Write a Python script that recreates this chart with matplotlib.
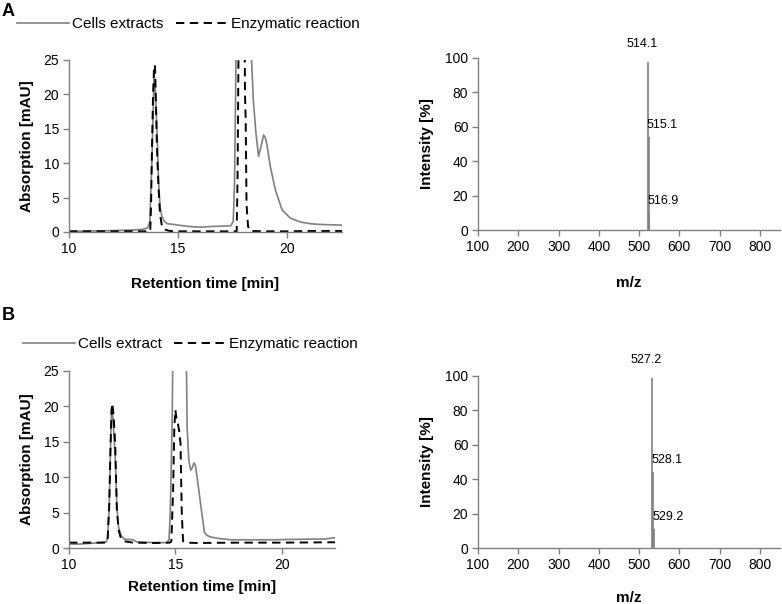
import matplotlib
matplotlib.use('Agg')
import matplotlib.pyplot as plt

plt.rcParams['font.family'] = ['Liberation Sans', 'DejaVu Sans']

GRAY = '#808080'

# Panel A chromatograms (retention time [min], absorption [mAU])
a_cells_t = [10.0, 11.0, 12.0, 13.0, 13.4, 13.6, 13.7, 13.75, 13.8, 13.85, 13.9, 13.95, 14.0,
             14.05, 14.1, 14.17, 14.25, 14.35, 14.5, 14.8, 15.0, 15.5, 16.0, 16.5, 17.0, 17.4,
             17.52, 17.58, 17.63, 17.68, 18.3, 18.36, 18.44, 18.56, 18.68, 18.8, 18.91, 19.0,
             19.07, 19.22, 19.45, 19.76, 20.14, 20.6, 21.06, 21.5, 22.0, 22.5]
a_cells_v = [0.1, 0.15, 0.2, 0.3, 0.4, 0.6, 1.5, 6.0, 10.5, 17.0, 23.0, 21.0, 17.0,
             13.0, 7.5, 3.7, 2.3, 1.6, 1.2, 1.1, 1.0, 0.8, 0.7, 0.8, 0.85, 0.9,
             1.5, 7.0, 20.0, 40.0, 40.0, 25.0, 19.2, 14.4, 11.0, 12.5, 14.1, 13.6,
             12.6, 9.5, 6.1, 3.2, 2.0, 1.45, 1.2, 1.1, 1.05, 1.0]
a_enz_t = [10.0, 13.0, 13.72, 13.76, 13.8, 13.85, 13.9, 13.94, 13.98, 14.03, 14.1, 14.17,
           14.25, 14.35, 14.6, 15.0, 17.0, 17.68, 17.72, 17.76, 17.8, 18.02, 18.06, 18.09,
           18.13, 18.2, 18.3, 19.0, 20.0, 21.0, 22.5]
a_enz_v = [0.1, 0.1, 0.1, 4.0, 12.0, 20.0, 24.3, 24.0, 19.0, 12.0, 6.5, 2.5,
           1.0, 0.4, 0.15, 0.1, 0.1, 0.1, 8.0, 25.0, 40.0, 40.0, 20.0, 16.5,
           4.0, 0.8, 0.15, 0.1, 0.1, 0.15, 0.15]

# Panel B chromatograms
b_cells_t = [10.0, 10.5, 11.0, 11.5, 11.75, 11.82, 11.89, 11.95, 12.0, 12.05, 12.1, 12.17,
             12.25, 12.33, 12.45, 12.6, 13.0, 13.2, 14.0, 14.6, 14.7, 14.76, 14.85, 14.92,
             15.47, 15.55, 15.63, 15.72, 15.79, 15.87, 15.94, 16.1, 16.26, 16.37, 16.5,
             16.65, 17.0, 17.6, 18.5, 19.5, 20.5, 21.5, 22.0, 22.5]
b_cells_v = [0.6, 0.6, 0.7, 0.8, 0.9, 1.5, 6.0, 14.0, 19.5, 19.0, 16.5, 13.0,
             6.0, 3.0, 1.8, 1.3, 1.2, 0.9, 0.8, 0.8, 1.2, 5.0, 18.0, 40.0,
             40.0, 17.1, 12.4, 11.0, 11.3, 12.0, 11.7, 8.2, 4.5, 2.2, 1.8,
             1.6, 1.4, 1.2, 1.2, 1.2, 1.25, 1.3, 1.3, 1.5]
b_enz_t = [10.0, 11.0, 11.75, 11.81, 11.89, 11.95, 12.0, 12.04, 12.1, 12.17, 12.25, 12.33,
           12.45, 12.6, 13.0, 14.0, 14.75, 14.81, 14.89, 14.95, 15.0, 15.06, 15.12, 15.18,
           15.24, 15.3, 15.36, 15.5, 16.0, 18.0, 20.0, 22.5]
b_enz_v = [0.8, 0.8, 0.8, 1.0, 5.9, 14.0, 19.5, 20.4, 18.5, 14.8, 5.4, 2.6,
           1.3, 1.0, 0.8, 0.75, 0.8, 1.0, 7.8, 17.0, 19.5, 18.0, 17.5, 16.5,
           14.8, 5.0, 1.0, 0.8, 0.75, 0.8, 0.8, 0.85]

# Mass spectra (m/z, intensity [%], peak labels)
a_ms_mz = [522.6, 523.6, 525.0]
a_ms_int = [97.8, 54.0, 10.0]
a_ms_labels = ['514.1', '515.1', '516.9']
b_ms_mz = [532.5, 535.0, 537.5]
b_ms_int = [98.5, 44.0, 11.0]
b_ms_labels = ['527.2', '528.1', '529.2']

legend_labels_a = ['Cells extracts', 'Enzymatic reaction']
legend_labels_b = ['Cells extract', 'Enzymatic reaction']

fig = plt.figure(figsize=(7.82, 6.04), dpi=100)
fig.patch.set_facecolor('white')


def style_axes(ax):
    for side in ['top', 'right']:
        ax.spines[side].set_visible(False)
    for side in ['left', 'bottom']:
        ax.spines[side].set_color(GRAY)
        ax.spines[side].set_linewidth(1.0)
    ax.tick_params(direction='out', length=4, width=1, color=GRAY,
                   labelsize=10, labelcolor='black', pad=3)


def chromatogram(rect, cells_t, cells_v, enz_t, enz_v, labels, legend_xy, xlabelpad):
    ax = fig.add_axes(rect)
    l1, = ax.plot(cells_t, cells_v, color=GRAY, lw=1.2)
    l2, = ax.plot(enz_t, enz_v, color='black', lw=1.4, linestyle=(0, (4.3, 2.8)))
    ax.set_xlim(10, 22.5)
    ax.set_ylim(0, 25)
    ax.set_xticks([10, 15, 20])
    ax.set_yticks([0, 5, 10, 15, 20, 25])
    ax.set_xlabel('Retention time [min]', fontsize=11, fontweight='bold', labelpad=xlabelpad)
    ax.set_ylabel('Absorption [mAU]', fontsize=11, fontweight='bold', labelpad=7)
    style_axes(ax)
    fig.legend([l1, l2], labels, loc='center left', bbox_to_anchor=legend_xy,
               ncol=2, frameon=False, fontsize=11, handlelength=3.4,
               handletextpad=0.2, columnspacing=0.8, borderaxespad=0, borderpad=0)
    return ax


def spectrum(rect, mz, inten, labels, xlabelpad):
    ax = fig.add_axes(rect)
    ax.vlines(mz, 0, inten, color=GRAY, lw=1.2)
    ax.set_xlim(100, 850)
    ax.set_ylim(0, 100)
    ax.set_xticks(range(100, 900, 100))
    ax.set_yticks(range(0, 120, 20))
    ax.set_xlabel('m/z', fontsize=11, fontweight='bold', labelpad=xlabelpad)
    ax.set_ylabel('Intensity [%]', fontsize=11, fontweight='bold', labelpad=8)
    style_axes(ax)
    # main peak label centred above, the others just right of the line
    ax.annotate(labels[0], (mz[0], inten[0]), xytext=(-6, 18), textcoords='offset pixels',
                ha='center', va='center', fontsize=9, annotation_clip=False)
    for x, y, lab in zip(mz[1:], inten[1:], labels[1:]):
        ax.annotate(lab, (x, y), xytext=(-2, 12), textcoords='offset pixels',
                    ha='left', va='center', fontsize=9, annotation_clip=False)
    return ax


chromatogram([0.0882, 0.6159, 0.3491, 0.2848], a_cells_t, a_cells_v, a_enz_t, a_enz_v,
             legend_labels_a, (17 / 782, 1 - 24 / 604), 15)
spectrum([0.6113, 0.6192, 0.3861, 0.2848], a_ms_mz, a_ms_int, a_ms_labels, 16)
chromatogram([0.0882, 0.0922, 0.3402, 0.2941], b_cells_t, b_cells_v, b_enz_t, b_enz_v,
             legend_labels_b, (23 / 782, 1 - 344 / 604), 6)
spectrum([0.6113, 0.0922, 0.3861, 0.2858], b_ms_mz, b_ms_int, b_ms_labels, 14)

fig.text(2 / 782, 1 - 12 / 604, 'A', fontsize=13, fontweight='bold', va='center', ha='left')
fig.text(2 / 782, 1 - 315 / 604, 'B', fontsize=13, fontweight='bold', va='center', ha='left')

fig.savefig('out.png', dpi=100, facecolor='white')
